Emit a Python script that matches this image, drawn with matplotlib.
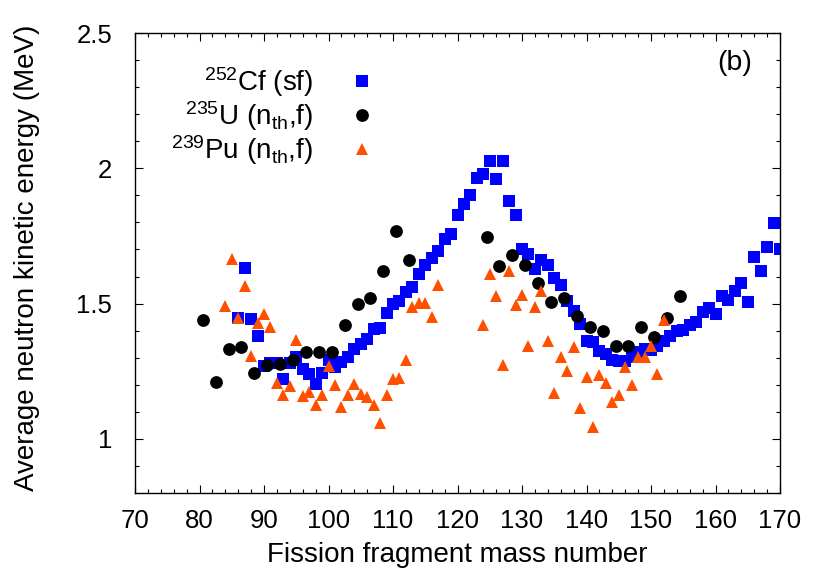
import matplotlib
matplotlib.use('Agg')
import matplotlib.pyplot as plt
from matplotlib.ticker import MultipleLocator

plt.rcParams['font.family'] = ['Liberation Sans', 'DejaVu Sans']
plt.rcParams['mathtext.fontset'] = 'custom'
plt.rcParams['mathtext.rm'] = 'Liberation Sans'
plt.rcParams['mathtext.it'] = 'Liberation Sans:italic'

# 252Cf (sf)
cf_mass = list(range(86, 171))
cf_energy = [1.447, 1.631, 1.443, 1.381, 1.270, 1.279, 1.279, 1.221, 1.279, 1.304,
             1.258, 1.240, 1.203, 1.244, 1.293, 1.267, 1.283, 1.301, 1.332, 1.351,
             1.370, 1.406, 1.410, 1.464, 1.499, 1.511, 1.542, 1.561, 1.610, 1.644,
             1.668, 1.696, 1.740, 1.758, 1.826, 1.867, 1.903, 1.964, 1.980, 2.027,
             1.959, 2.027, 1.878, 1.826, 1.700, 1.684, 1.629, 1.662, 1.644, 1.596,
             1.568, 1.511, 1.472, 1.425, 1.360, 1.357, 1.326, 1.314, 1.292, 1.286,
             1.286, 1.304, 1.320, 1.332, 1.329, 1.344, 1.360, 1.381, 1.397, 1.403,
             1.420, 1.432, 1.468, 1.484, 1.462, 1.527, 1.514, 1.546, 1.577, 1.505,
             1.671, 1.622, 1.709, 1.799, 1.703]

# 235U (nth,f)
u_mass = [80.5, 82.5, 84.5, 86.5, 88.5, 90.5, 92.5, 94.5, 96.5, 98.5, 100.5,
          102.5, 104.5, 106.5, 108.5, 110.5, 112.5,
          124.5, 126.5, 128.5, 130.5, 132.5, 134.5, 136.5, 138.5, 140.5,
          142.5, 144.5, 146.5, 148.5, 150.5, 152.5, 154.5]
u_energy = [1.441, 1.212, 1.332, 1.338, 1.244, 1.274, 1.275, 1.291, 1.321, 1.321, 1.321,
            1.421, 1.498, 1.521, 1.619, 1.770, 1.662,
            1.746, 1.638, 1.679, 1.641, 1.577, 1.506, 1.522, 1.453, 1.415,
            1.397, 1.344, 1.344, 1.413, 1.377, 1.448, 1.529]

# 239Pu (nth,f)
pu_mass = list(range(84, 118)) + list(range(124, 153))
pu_energy = [1.490, 1.663, 1.447, 1.564, 1.305, 1.427, 1.462, 1.412, 1.206, 1.163,
             1.196, 1.367, 1.159, 1.175, 1.126, 1.162, 1.269, 1.200, 1.119, 1.163,
             1.203, 1.165, 1.155, 1.125, 1.058, 1.163, 1.220, 1.224, 1.293, 1.487,
             1.501, 1.501, 1.452, 1.569,
             1.419, 1.610, 1.529, 1.274, 1.622, 1.495, 1.532, 1.342, 1.488, 1.548,
             1.360, 1.171, 1.304, 1.249, 1.338, 1.114, 1.230, 1.042, 1.237, 1.206,
             1.138, 1.163, 1.264, 1.200, 1.304, 1.304, 1.342, 1.240, 1.440]

fig = plt.figure(figsize=(8.3, 5.81), dpi=100)
ax = fig.add_axes([0.1627, 0.1515, 0.7771, 0.7917])

ax.plot(cf_mass, cf_energy, 's', color='#0000ff', ms=9.1, mew=0,
        label=r'$\mathregular{^{252}}$Cf (sf)')
ax.plot(u_mass, u_energy, 'o', color='black', ms=9.2, mew=0,
        label=r'$\mathregular{^{235}}$U (n$\mathregular{_{th}}$,f)')
ax.plot(pu_mass, pu_energy, '^', color='#ff5000', ms=8.8, mew=0,
        label=r'$\mathregular{^{239}}$Pu (n$\mathregular{_{th}}$,f)')

ax.set_xlim(70, 170)
ax.set_ylim(0.8, 2.5)
ax.xaxis.set_major_locator(MultipleLocator(10))
ax.xaxis.set_minor_locator(MultipleLocator(2))
ax.yaxis.set_major_locator(MultipleLocator(0.5))
ax.yaxis.set_minor_locator(MultipleLocator(0.1))
ax.set_yticks([1, 1.5, 2, 2.5])
ax.set_yticklabels(['1', '1.5', '2', '2.5'])

ax.tick_params(which='both', direction='in', top=True, right=True, width=0.8)
ax.tick_params(which='major', length=5.5)
ax.tick_params(which='minor', length=3)
ax.tick_params(axis='x', which='major', labelsize=18.5, pad=11.5)
ax.tick_params(axis='y', which='major', labelsize=18.5, pad=16.5)
for sp in ax.spines.values():
    sp.set_linewidth(1.0)

ax.set_xlabel('Fission fragment mass number', fontsize=20)
ax.xaxis.label.set_va('center')
ax.xaxis.set_label_coords(0.5, -0.135)
ax.set_ylabel('Average neutron kinetic energy (MeV)', fontsize=20)
ax.yaxis.label.set_va('center')
ax.yaxis.set_label_coords(-0.168, 0.511)

ax.text(0.93, 0.935, '(b)', transform=ax.transAxes, fontsize=20.5,
        ha='center', va='center')

ax.legend(loc='upper left', bbox_to_anchor=(0.056, 0.93), frameon=False,
          markerfirst=False, fontsize=20, borderpad=0, handlelength=1.0,
          handletextpad=1.25, labelspacing=0.0, borderaxespad=0)

fig.savefig('out.png', dpi=100)
